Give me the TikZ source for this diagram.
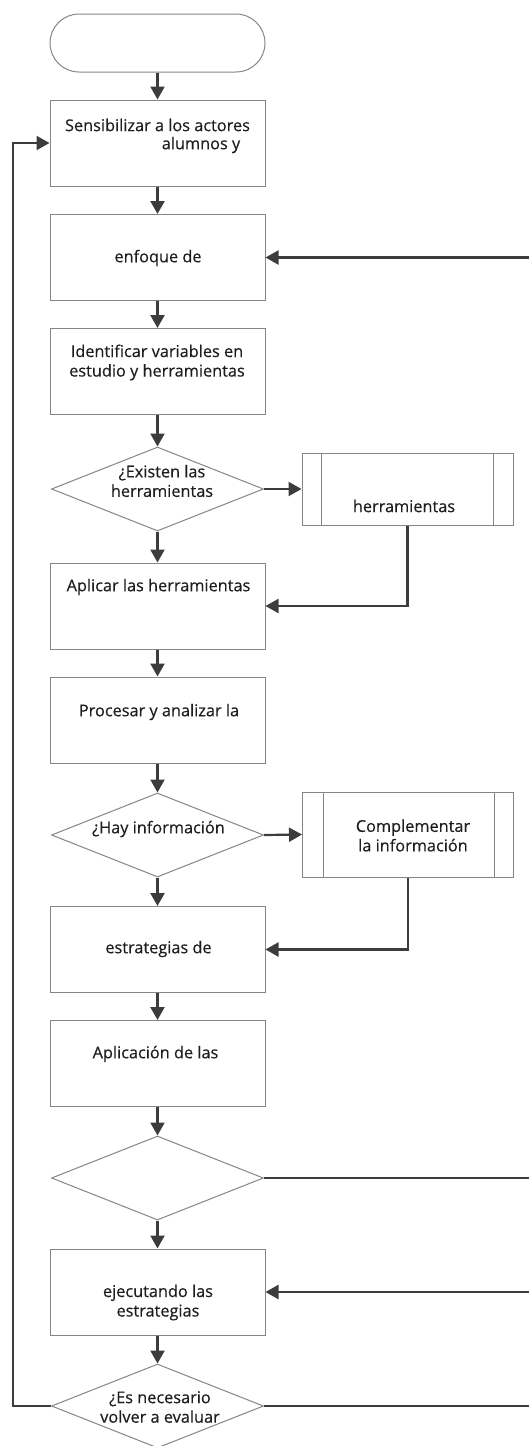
\documentclass[tikz,border=0pt]{standalone}
\usepackage{fontspec}
\setmainfont{Open Sans}[UprightFeatures={FakeBold=0.4}]
\usetikzlibrary{shapes.geometric,arrows.meta,calc}
\definecolor{boxgray}{HTML}{858585}
\definecolor{arrcol}{HTML}{3C3C3C}
\definecolor{txtcol}{HTML}{1E1E1E}
\begin{document}
\begin{tikzpicture}[x=1pt,y=-1pt,
  box/.style={draw=boxgray, line width=1pt, minimum width=215pt, minimum height=86pt, inner sep=0pt},
  sub/.style={draw=boxgray, line width=1pt, minimum width=211pt, inner sep=0pt},
  dia/.style={diamond, draw=boxgray, line width=1pt, minimum width=212pt, minimum height=84pt, inner sep=0pt},
  txt/.style={font=\fontsize{16.3}{19.5}\selectfont, text=txtcol, align=center, inner sep=0pt},
  arr/.style={draw=arrcol, line width=2.2pt, -{Triangle[length=13pt,width=14pt]}},
  ln/.style={draw=arrcol, line width=2.2pt},
  inner/.style={draw=boxgray, line width=1pt}]
\useasboundingbox (0,0) rectangle (529,1446);
% terminal
\node[draw=boxgray, line width=1pt, rounded corners=29pt, minimum width=215pt, minimum height=58pt] (term) at (157.5,43) {};
% boxes
\node[box] (b1) at (157.5,143) {};
\node[txt] (t1a) at (157.5,125) {Sensibilizar a los actores};
\node[txt] (t1b) at (201,145) {alumnos y};
\node[box] (b2) at (157.5,257.5) {};
\node[txt] (t2) at (158,258) {enfoque de};
\node[box] (b3) at (157.5,371.5) {};
\node[txt] (t3) at (157,362.5) {Identificar variables en\\estudio y herramientas};
\node[dia] (d1) at (157.5,489) {};
\node[txt] (td1) at (162,481) {¿Existen las\\herramientas};
\node[sub, minimum height=72pt] (s1) at (407.5,489) {};
\draw[inner] ([xshift=20pt]s1.north west) -- ([xshift=20pt]s1.south west);
\draw[inner] ([xshift=-20pt]s1.north east) -- ([xshift=-20pt]s1.south east);
\node[txt] (ts1) at (404,506) {herramientas};
\node[box] (b4) at (157.5,606) {};
\node[txt] (t4) at (158.5,587) {Aplicar las herramientas};
\node[box] (b5) at (157.5,720) {};
\node[txt] (t5) at (159,712) {Procesar y analizar la};
\node[dia] (d2) at (157.5,835) {};
\node[txt] (td2) at (158.5,829) {¿Hay información};
\node[sub, minimum height=85pt] (s2) at (408,834.5) {};
\draw[inner] ([xshift=21pt]s2.north west) -- ([xshift=21pt]s2.south west);
\draw[inner] ([xshift=-20pt]s2.north east) -- ([xshift=-20pt]s2.south east);
\node[txt] (ts2) at (413,835.5) {Complementar\\la información};
\node[box] (b6) at (157.5,949.5) {};
\node[txt] (t6) at (158.5,949) {estrategias de};
\node[box] (b7) at (157.5,1063.5) {};
\node[txt] (t7) at (155.5,1054) {Aplicación de las};
\node[dia] (d3) at (157.5,1178) {};
\node[box] (b8) at (157.5,1292) {};
\node[txt] (t8) at (158,1302.5) {ejecutando las\\estrategias};
\node[dia] (d4) at (157.5,1406) {};
\node[txt] (td4) at (160,1407) {¿Es necesario\\volver a evaluar};
% free ends
\coordinate (r2) at (529,257.5);
\coordinate (r3) at (529,1178);
\coordinate (r8) at (529,1292);
\coordinate (r4) at (529,1406);
\coordinate (l4) at (13,1406);
% connectors
\draw[arr] (term.south) -- (b1.north);
\draw[arr] (b1.south) -- (b2.north);
\draw[arr] (b2.south) -- (b3.north);
\draw[arr] (b3.south) -- (d1.north);
\draw[arr] (d1.south) -- (b4.north);
\draw[arr] (d1.east) -- (s1.west);
\draw[arr] (s1.south) |- (b4.east);
\draw[arr] (b4.south) -- (b5.north);
\draw[arr] (b5.south) -- (d2.north);
\draw[arr] (d2.south) -- (b6.north);
\draw[arr] (d2.east) -- (s2.west);
\draw[arr] (s2.south) |- (b6.east);
\draw[arr] (b6.south) -- (b7.north);
\draw[arr] (b7.south) -- (d3.north);
\draw[arr] (d3.south) -- (b8.north);
\draw[arr] (b8.south) -- (d4.north);
\draw[arr] (r2) -- (b2.east);
\draw[ln] (d3.east) -- (r3);
\draw[arr] (r8) -- (b8.east);
\draw[ln] (d4.east) -- (r4);
\draw[arr] (d4.west) -- (l4) |- (b1.west);
\end{tikzpicture}
\end{document}
